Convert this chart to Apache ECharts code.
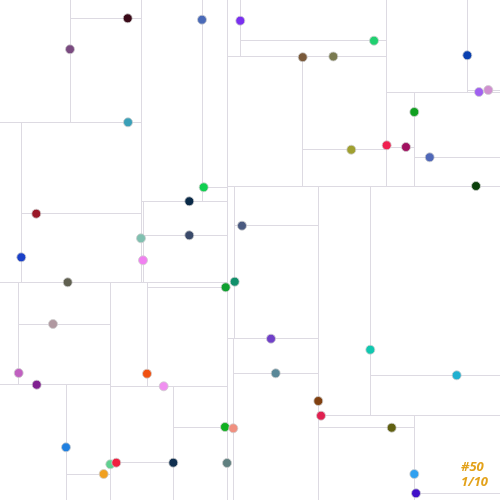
<!DOCTYPE html>
<html>
<head>
<meta charset="utf-8">
<script src="https://cdn.jsdelivr.net/npm/echarts@6/dist/echarts.min.js"></script>
<style>html,body{margin:0;padding:0;background:#fff}#c{width:500px;height:500px}</style>
</head>
<body>
<div id="c"></div>
<script>
const pointX = [127.7,70,128,202,240.3,203.7,189.3,36.3,141,189.3,242,374,302.7,333.3,467.3,479,488.3,414.3,351.3,386.7,406,429.7,476,21.3,143,67.7,225.7,234.7,53,18.7,36.7,147,163.7,225,233.3,66,110.3,116.3,103.7,173.3,227,271,275.7,370.3,456.7,318.3,321,391.7,414.3,416];
const pointY = [18.3,49.3,122.3,19.7,20.7,187.3,201.3,213.7,238.3,235.3,225.7,40.7,57.2,56.5,55.3,92,90,112,149.7,145.3,147,157.3,186,257.3,260.3,282.3,287.3,281.7,324,373,384.7,373.7,386.3,427,428.3,447.3,464.3,462.7,474,462.7,463,338.7,373.3,349.7,375.3,401,415.7,427.7,474,493.3];
const pointColors = ['#3a0a18','#7a4a80','#3aa0b8','#4a6ab8','#7a30f0','#10d050','#0a2a48','#9a1828','#80c0b0','#3a4a6a','#4a5a80','#20d070','#7a5a3a','#7a7a50','#0a40b0','#a060f0','#d090d0','#10a020','#a0a030','#f02050','#a01060','#5068b8','#0a400a','#1a40c8','#f080f0','#606050','#10a030','#10906a','#b098a0','#c060c0','#802090','#f05010','#f090f0','#10b020','#f09080','#2080e0','#60d090','#f02040','#f0a020','#103050','#608080','#7040c8','#5a8898','#10c8b0','#20b0d0','#804010','#e02050','#606010','#30a0f0','#4010c8'];
const labelLines = ['#50', '1/10'];
const domainMax = 500;

// k-d tree splits computed from the points
const segments = [];
function build(idx, depth, x0, x1, y0, y1) {
  if (!idx.length) return;
  const axis = depth % 2;
  const key = axis === 0 ? pointX : pointY;
  const s = idx.slice().sort((a, b) => key[a] - key[b]);
  const m = Math.floor((s.length - 1) / 2);
  const p = s[m];
  if (axis === 0) {
    segments.push({coords: [[pointX[p], y0], [pointX[p], y1]]});
    build(s.slice(0, m), depth + 1, x0, pointX[p], y0, y1);
    build(s.slice(m + 1), depth + 1, pointX[p], x1, y0, y1);
  } else {
    segments.push({coords: [[x0, pointY[p]], [x1, pointY[p]]]});
    build(s.slice(0, m), depth + 1, x0, x1, y0, pointY[p]);
    build(s.slice(m + 1), depth + 1, x0, x1, pointY[p], y1);
  }
}
build(pointX.map((_, i) => i), 0, 0, domainMax, 0, domainMax);

const chart = echarts.init(document.getElementById('c'));
chart.setOption({
  animation: false,
  grid: {left: 0, right: 0, top: 0, bottom: 0},
  xAxis: {type: 'value', min: 0, max: domainMax, show: false},
  yAxis: {type: 'value', min: 0, max: domainMax, inverse: true, show: false},
  series: [
    {
      type: 'lines',
      coordinateSystem: 'cartesian2d',
      data: segments,
      silent: true,
      lineStyle: {color: '#dddae2', width: 1, opacity: 1},
      z: 1
    },
    {
      type: 'scatter',
      symbolSize: 9,
      data: pointX.map((x, i) => ({value: [x, pointY[i]], itemStyle: {color: pointColors[i]}})),
      itemStyle: {borderColor: '#cfcfcf', borderWidth: 0.8, opacity: 1},
      z: 3
    }
  ],
  graphic: [{
    type: 'text',
    left: 461,
    top: 460,
    style: {
      text: labelLines.join('\n'),
      fill: '#e3a21a',
      font: 'italic bold 13px "Noto Sans"',
      lineHeight: 15
    }
  }]
});
</script>
</body>
</html>
